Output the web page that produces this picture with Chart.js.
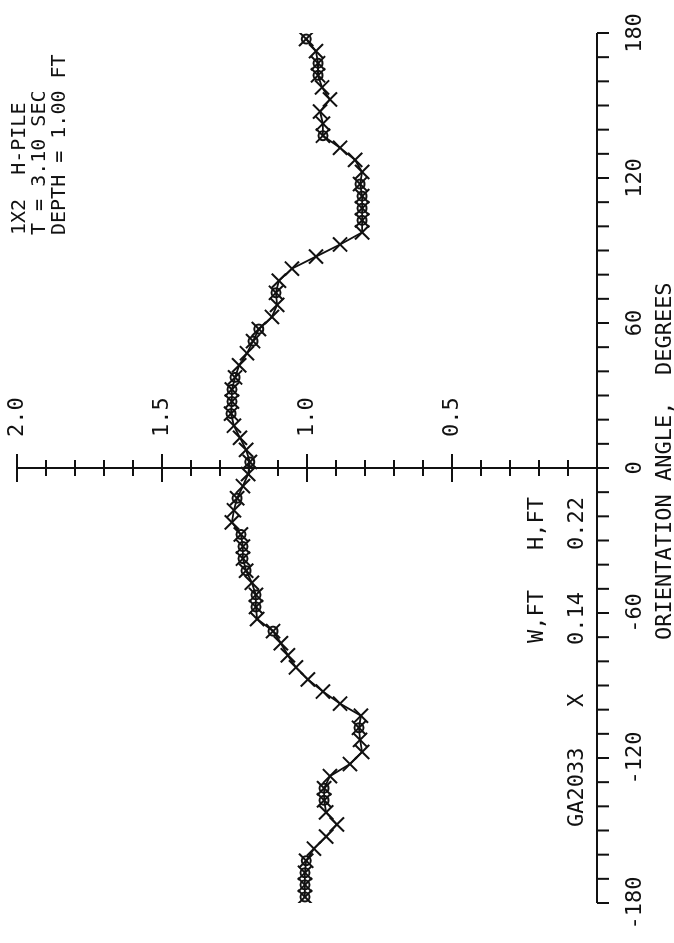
<!DOCTYPE html>
<html>
<head>
<meta charset="utf-8">
<script src="https://cdn.jsdelivr.net/npm/chart.js@4.4.0/dist/chart.umd.min.js"></script>
<style>
html, body { margin: 0; padding: 0; background: #fff; overflow: hidden; }
#wrap { position: relative; width: 674px; height: 943px; }
/* the plot is drawn landscape and turned a quarter turn, like the original plotter sheet */
#plot { position: absolute; left: 0; top: 0; transform-origin: 0 0; transform: translateY(943px) rotate(-90deg); }
</style>
</head>
<body>
<div id="wrap"><canvas id="plot" width="943" height="674"></canvas></div>
<script>
// values, one point every 5 degrees
var angles = [-177.5, -172.5, -167.5, -162.5, -157.5, -152.5, -147.5, -142.5, -137.5, -132.5,
              -127.5, -122.5, -117.5, -112.5, -107.5, -102.5, -97.5, -92.5, -87.5, -82.5,
              -77.5, -72.5, -67.5, -62.5, -57.5, -52.5, -47.5, -42.5, -37.5, -32.5,
              -27.5, -22.5, -17.5, -12.5, -7.5, -2.5, 2.5, 7.5, 12.5, 17.5,
              22.5, 27.5, 32.5, 37.5, 42.5, 47.5, 52.5, 57.5, 62.5, 67.5,
              72.5, 77.5, 82.5, 87.5, 92.5, 97.5, 102.5, 107.5, 112.5, 117.5,
              122.5, 127.5, 132.5, 137.5, 142.5, 147.5, 152.5, 157.5, 162.5, 167.5,
              172.5, 177.5];
var heights = [1.007, 1.007, 1.007, 1.003, 0.976, 0.934, 0.897, 0.934, 0.941, 0.941,
               0.921, 0.852, 0.810, 0.817, 0.821, 0.814, 0.886, 0.945, 0.997, 1.038,
               1.066, 1.090, 1.117, 1.172, 1.176, 1.176, 1.190, 1.210, 1.221, 1.221,
               1.228, 1.259, 1.252, 1.241, 1.221, 1.203, 1.197, 1.210, 1.231, 1.252,
               1.262, 1.259, 1.259, 1.248, 1.234, 1.207, 1.186, 1.166, 1.121, 1.103,
               1.107, 1.097, 1.052, 0.969, 0.886, 0.810, 0.810, 0.810, 0.810, 0.817,
               0.810, 0.834, 0.886, 0.945, 0.945, 0.955, 0.921, 0.948, 0.962, 0.962,
               0.969, 1.003];
// points that also carry a small circle
var circled = [-177.5, -172.5, -167.5, -162.5, -137.5, -132.5, -107.5, -67.5, -57.5, -52.5,
               -42.5, -37.5, -32.5, -27.5, -12.5, 2.5, 22.5, 27.5, 32.5, 37.5,
               52.5, 57.5, 72.5, 102.5, 107.5, 112.5, 117.5, 137.5, 162.5, 167.5, 177.5];

var angleLabels = [-180, -120, -60, 0, 60, 120, 180];
var heightLabels = [0.5, 1.0, 1.5, 2.0];
var titleLines = ["1X2  H-PILE", "T = 3.10 SEC", "DEPTH = 1.00 FT"];
var axisTitle = "ORIENTATION ANGLE,  DEGREES";
var runName = "GA2033";
var headW = "W,FT", headH = "H,FT";
var valW = "0.14", valH = "0.22";

var ink = "#111";
var font = '"DejaVu Sans Mono", monospace';

var linePoints = angles.map(function (a, i) { return { x: a, y: heights[i] }; });
var circlePoints = circled.map(function (a) { return { x: a, y: heights[angles.indexOf(a)] }; });

// hand drawn axes, like the plotter ones
var plotterAxes = {
    id: 'plotterAxes',
    afterDraw: function (chart) {
        var ctx = chart.ctx;
        var xs = chart.scales.x, ys = chart.scales.y;
        var y0 = ys.getPixelForValue(0);
        var x0 = xs.getPixelForValue(0);
        ctx.save();
        ctx.strokeStyle = ink;
        ctx.fillStyle = ink;
        ctx.lineWidth = 2;

        // angle axis with ticks every 10 degrees
        ctx.beginPath();
        ctx.moveTo(xs.getPixelForValue(-180), y0);
        ctx.lineTo(xs.getPixelForValue(180), y0);
        for (var a = -180; a <= 180; a += 10) {
            var px = xs.getPixelForValue(a);
            ctx.moveTo(px, y0);
            ctx.lineTo(px, y0 + 12);
        }
        ctx.stroke();

        // height axis standing at 0 degrees, ticks every 0.1
        ctx.beginPath();
        ctx.moveTo(x0, y0);
        ctx.lineTo(x0, ys.getPixelForValue(2));
        for (var k = 1; k <= 20; k++) {
            var py = ys.getPixelForValue(k / 10);
            var half = (k % 5 === 0) ? 14 : 8;
            ctx.moveTo(x0 - half, py);
            ctx.lineTo(x0 + half, py);
        }
        ctx.stroke();

        ctx.font = '22px ' + font;
        ctx.textAlign = 'center';
        ctx.textBaseline = 'top';
        angleLabels.forEach(function (a) {
            ctx.fillText(String(a), xs.getPixelForValue(a), y0 + 27);
        });

        ctx.textAlign = 'left';
        ctx.textBaseline = 'middle';
        heightLabels.forEach(function (v) {
            ctx.fillText(v.toFixed(1), x0 + 31, ys.getPixelForValue(v));
        });

        // title block
        ctx.font = '20px ' + font;
        ctx.textBaseline = 'alphabetic';
        titleLines.forEach(function (t, i) {
            ctx.fillText(t, 708, 25 + i * 20);
        });

        // axis title
        ctx.font = '22px ' + font;
        ctx.fillText(axisTitle, 303, 671);

        // key
        ctx.fillText(headW, 300, 543);
        ctx.fillText(headH, 393, 543);
        ctx.fillText(runName, 116, 583);
        ctx.fillText("X", 236, 583);
        ctx.fillText(valW, 298, 583);
        ctx.fillText(valH, 393, 583);
        ctx.restore();
    }
};

new Chart(document.getElementById('plot'), {
    type: 'scatter',
    data: {
        datasets: [
            {
                data: linePoints,
                showLine: true,
                borderColor: ink,
                borderWidth: 1.8,
                pointStyle: 'crossRot',
                pointRadius: 10,
                pointBorderWidth: 2,
                pointBorderColor: ink,
                backgroundColor: ink
            },
            {
                data: circlePoints,
                showLine: false,
                pointStyle: 'circle',
                pointRadius: 4.5,
                pointBorderWidth: 2,
                pointBorderColor: ink,
                pointBackgroundColor: 'rgba(0,0,0,0)'
            }
        ]
    },
    options: {
        responsive: false,
        animation: false,
        layout: { autoPadding: false, padding: { left: 40, right: 33, top: 17, bottom: 77 } },
        plugins: { legend: { display: false }, tooltip: { enabled: false } },
        scales: {
            x: { type: 'linear', min: -180, max: 180, display: false },
            y: { type: 'linear', min: 0, max: 2, display: false }
        }
    },
    plugins: [plotterAxes]
});
</script>
</body>
</html>
